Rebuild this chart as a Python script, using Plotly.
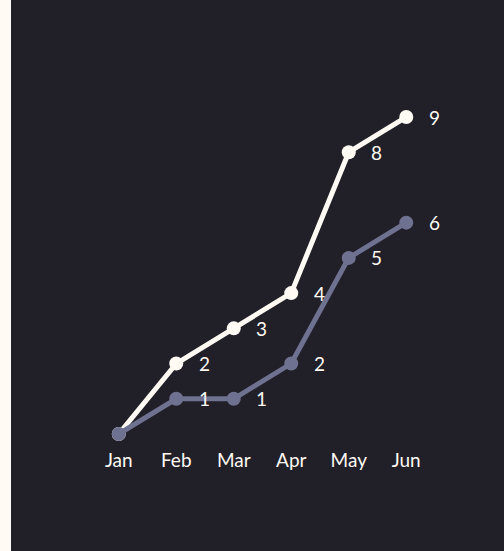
import plotly.graph_objects as go

months = ["Jan", "Feb", "Mar", "Apr", "May", "Jun"]
series_a = [0, 2, 3, 4, 8, 9]
series_b = [0, 1, 1, 2, 5, 6]

BG = "#211F28"
CREAM = "#FFFAF3"
GRAY = "#6E7190"
W, H = 504, 551
ML, MR, MT, MB = 90, 69, 117, 117
plot_w = W - ML - MR

fig = go.Figure()
for vals, color in [(series_a, CREAM), (series_b, GRAY)]:
    fig.add_trace(go.Scatter(
        x=months, y=vals, mode="lines+markers",
        line=dict(color=color, width=5),
        marker=dict(color=color, size=14),
        cliponaxis=False, hoverinfo="skip", showlegend=False,
    ))
    for i, (m, v) in enumerate(zip(months, vals)):
        if i == 0:
            continue
        fig.add_annotation(x=m, y=v, text=str(v), showarrow=False,
                           xshift=28, yshift=0,
                           font=dict(family="Lato", size=19, color=CREAM))

fig.add_shape(type="rect", xref="paper", yref="paper",
              x0=-ML / plot_w, x1=(11 - ML) / plot_w, y0=-MB / (H - MT - MB), y1=1 + MT / (H - MT - MB),
              fillcolor=CREAM, line=dict(width=0), layer="below")

fig.update_layout(
    width=W, height=H,
    margin=dict(l=ML, r=MR, t=MT, b=MB),
    paper_bgcolor=BG, plot_bgcolor=BG,
    xaxis=dict(range=[-0.5, 5.5], showgrid=False, zeroline=False, showline=False,
               ticks="", ticklabelstandoff=13,
               tickfont=dict(family="Lato", size=19, color=CREAM)),
    yaxis=dict(range=[0, 9], showgrid=False, zeroline=False, showline=False,
               showticklabels=False),
)
fig.write_html("out.html")
